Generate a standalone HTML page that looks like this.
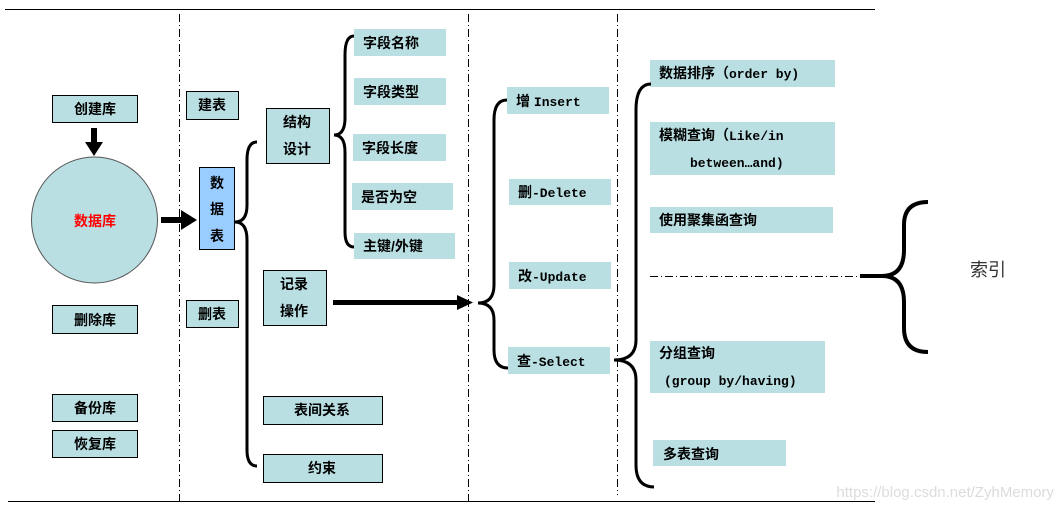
<!DOCTYPE html>
<html><head><meta charset="utf-8"><style>
html,body{margin:0;padding:0;background:#fff;}
svg{display:block;}
text{font-family:"Liberation Sans","Noto Sans CJK SC","WenQuanYi Zen Hei",sans-serif;font-size:14px;fill:#000;}
.m{font-family:"Liberation Mono","Noto Sans CJK SC",monospace;font-size:13px;font-weight:bold;}
</style></head><body>
<svg width="1064" height="509" viewBox="0 0 1064 509" xmlns="http://www.w3.org/2000/svg">
<line x1="5" y1="9.5" x2="875" y2="9.5" stroke="#000" stroke-width="1"/>
<line x1="8" y1="501.5" x2="875" y2="501.5" stroke="#000" stroke-width="1"/>
<g stroke="#000" stroke-width="1" stroke-dasharray="8,3,1,3">
<line x1="179.5" y1="14" x2="179.5" y2="505"/>
<line x1="468.5" y1="14" x2="468.5" y2="505"/>
<line x1="617.5" y1="14" x2="617.5" y2="495"/>
</g>
<g fill="#b9dfe3" stroke="#000" stroke-width="1">
<rect x="52.5" y="95.5" width="85" height="27"/>
<rect x="52.5" y="305.5" width="85" height="28"/>
<rect x="52.5" y="394.5" width="85" height="27"/>
<rect x="52.5" y="430.5" width="85" height="27"/>
<rect x="186.5" y="91.5" width="52" height="28"/>
<rect x="186.5" y="300.5" width="52" height="27"/>
<rect x="266.5" y="108.5" width="63" height="55"/>
<rect x="263.5" y="270.5" width="63" height="55"/>
<rect x="263.5" y="396.5" width="119" height="28"/>
<rect x="263.5" y="454.5" width="119" height="28"/>
<circle cx="94.5" cy="220" r="63" stroke="#555"/>
</g>
<rect x="199.5" y="167.5" width="35" height="82" fill="#99ccff" stroke="#000"/>
<g fill="#b9dfe3">
<rect x="354" y="29" width="92" height="27"/>
<rect x="354" y="78" width="92" height="27"/>
<rect x="353" y="134" width="93" height="27"/>
<rect x="352" y="183" width="101" height="27"/>
<rect x="354" y="233" width="101" height="26"/>
<rect x="507" y="87" width="102" height="27"/>
<rect x="509" y="179" width="102" height="26"/>
<rect x="509" y="262" width="102" height="27"/>
<rect x="508" y="347" width="102" height="27"/>
<rect x="650" y="60" width="185" height="27"/>
<rect x="650" y="122" width="185" height="53"/>
<rect x="650" y="207" width="183" height="26"/>
<rect x="650" y="341" width="175" height="52"/>
<rect x="653" y="440" width="133" height="26"/>
</g>
<rect x="91" y="128" width="6" height="15" fill="#000"/>
<polygon points="85,142 103,142 94,156" fill="#000"/>
<rect x="161" y="217" width="22" height="6" fill="#000"/>
<polygon points="181,210 197,220 181,230" fill="#000"/>
<rect x="333" y="300" width="126" height="5" fill="#000"/>
<polygon points="457,295 473,302.5 457,310" fill="#000"/>
<g fill="none" stroke="#000" stroke-width="3">
<path d="M257,142 Q247,142 247,160 L247,205 Q247,222 235,222 Q247,222 247,240 L247,450 Q247,466 257,466"/>
<path d="M354,36 Q345,36 345,55 L345,118 Q345,135 334,135 Q345,135 345,152 L345,232 Q345,247 354,247"/>
<path d="M507,100 Q494,100 494,120 L494,285 Q494,303 478,303 Q494,303 494,320 L494,350 Q494,368 508,368"/>
<path d="M651,84 Q636,84 636,110 L636,340 Q636,360 614,360 Q636,360 636,380 L636,465 Q636,487 654,487"/>
</g>
<line x1="650" y1="276.5" x2="860" y2="276.5" stroke="#000" stroke-width="1" stroke-dasharray="8,3,1,3"/>
<path d="M860,276 L882,276 Q904,276 904,250 L904,225 Q904,202 928,202 M882,276 Q904,276 904,302 L904,328 Q904,352 928,352" fill="none" stroke="#000" stroke-width="4"/>
<g font-weight="bold">
<text x="95" y="114" text-anchor="middle">创建库</text>
<text x="95" y="325" text-anchor="middle">删除库</text>
<text x="95" y="413" text-anchor="middle">备份库</text>
<text x="95" y="449" text-anchor="middle">恢复库</text>
<text x="95" y="226" text-anchor="middle" style="fill:#ff0000">数据库</text>
<text x="212" y="110" text-anchor="middle">建表</text>
<text x="212" y="319" text-anchor="middle">删表</text>
<text x="217" y="188" text-anchor="middle">数</text>
<text x="217" y="214" text-anchor="middle">据</text>
<text x="217" y="241" text-anchor="middle">表</text>
<text x="297" y="127" text-anchor="middle">结构</text>
<text x="297" y="154" text-anchor="middle">设计</text>
<text x="294" y="289" text-anchor="middle">记录</text>
<text x="294" y="316" text-anchor="middle">操作</text>
<text x="322" y="415" text-anchor="middle">表间关系</text>
<text x="322" y="473" text-anchor="middle">约束</text>
<text x="363" y="48">字段名称</text>
<text x="363" y="97">字段类型</text>
<text x="362" y="153">字段长度</text>
<text x="361" y="202">是否为空</text>
<text x="363" y="251">主键/外键</text>
<text x="516" y="106">增 <tspan class="m">Insert</tspan></text>
<text x="518" y="197">删<tspan class="m">-Delete</tspan></text>
<text x="518" y="281">改<tspan class="m">-Update</tspan></text>
<text x="517" y="366">查<tspan class="m">-Select</tspan></text>
<text x="659" y="78">数据排序（<tspan class="m">order by)</tspan></text>
<text x="659" y="140">模糊查询（<tspan class="m">Like/in</tspan></text>
<text x="690" y="167" class="m">between…and)</text>
<text x="659" y="225">使用聚集函查询</text>
<text x="659" y="358">分组查询</text>
<text x="664" y="385" class="m">(group by/having)</text>
<text x="663" y="459">多表查询</text>
</g>
<text x="988" y="276" text-anchor="middle" style="font-size:18px;fill:#333">索引</text>
<text x="1054" y="497" text-anchor="end" style="font-size:15px;fill:#dcdcdc">https://blog.csdn.net/ZyhMemory</text>
</svg>
</body></html>
